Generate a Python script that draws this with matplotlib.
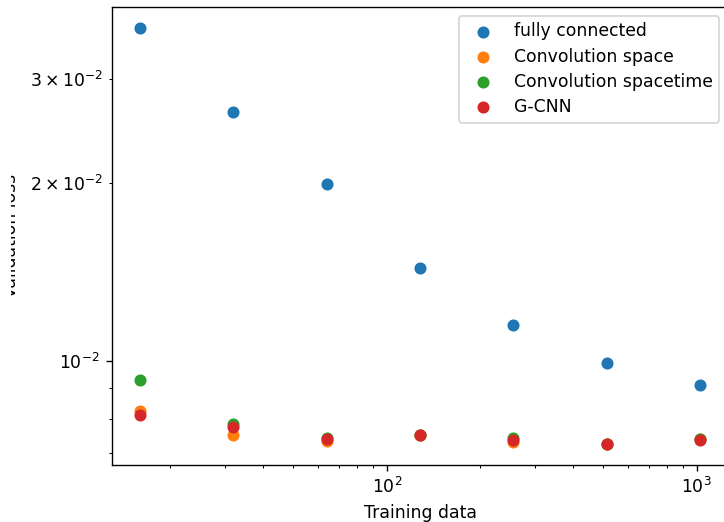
import matplotlib
matplotlib.use("Agg")
import matplotlib.pyplot as plt
from matplotlib.transforms import Bbox, TransformedBbox

# training set sizes
train_sizes = [16, 32, 64, 128, 256, 512, 1024]

# validation loss per model
loss_fc = [0.0366, 0.0264, 0.0199, 0.0144, 0.0115, 0.00992, 0.00911]
loss_conv_space = [0.00825, 0.00751, 0.00734, 0.00749, 0.00730, 0.00724, 0.00738]
loss_conv_spacetime = [0.00930, 0.00783, 0.00741, 0.00751, 0.00742, 0.00724, 0.00738]
loss_gcnn = [0.00812, 0.00775, 0.00739, 0.00749, 0.00737, 0.00725, 0.00737]

labels = ["fully connected", "Convolution space", "Convolution spacetime", "G-CNN"]

DPI = 124
fig = plt.figure(figsize=(724 / DPI, 522 / DPI), dpi=DPI)
# the original image is cropped, so the axes box runs a little past the right edge
ax = fig.add_axes([112 / 724, (522 - 465) / 522, (728 - 112) / 724, (465 - 7) / 522])

for ys, lab in zip([loss_fc, loss_conv_space, loss_conv_spacetime, loss_gcnn], labels):
    ax.scatter(train_sizes, ys, label=lab)

ax.set_xscale("log")
ax.set_yscale("log")
ax.set_xlabel("Training data")
ylab = ax.set_ylabel("Validation loss", labelpad=5.8)
# the original cut the y label off at its left edge
ylab.set_clip_box(TransformedBbox(Bbox([[11 / 724, 0], [1, 1]]), fig.transFigure))
ylab.set_clip_on(True)
ax.legend(loc="upper right", labelspacing=0.41)

fig.savefig("out.png", dpi=DPI)
